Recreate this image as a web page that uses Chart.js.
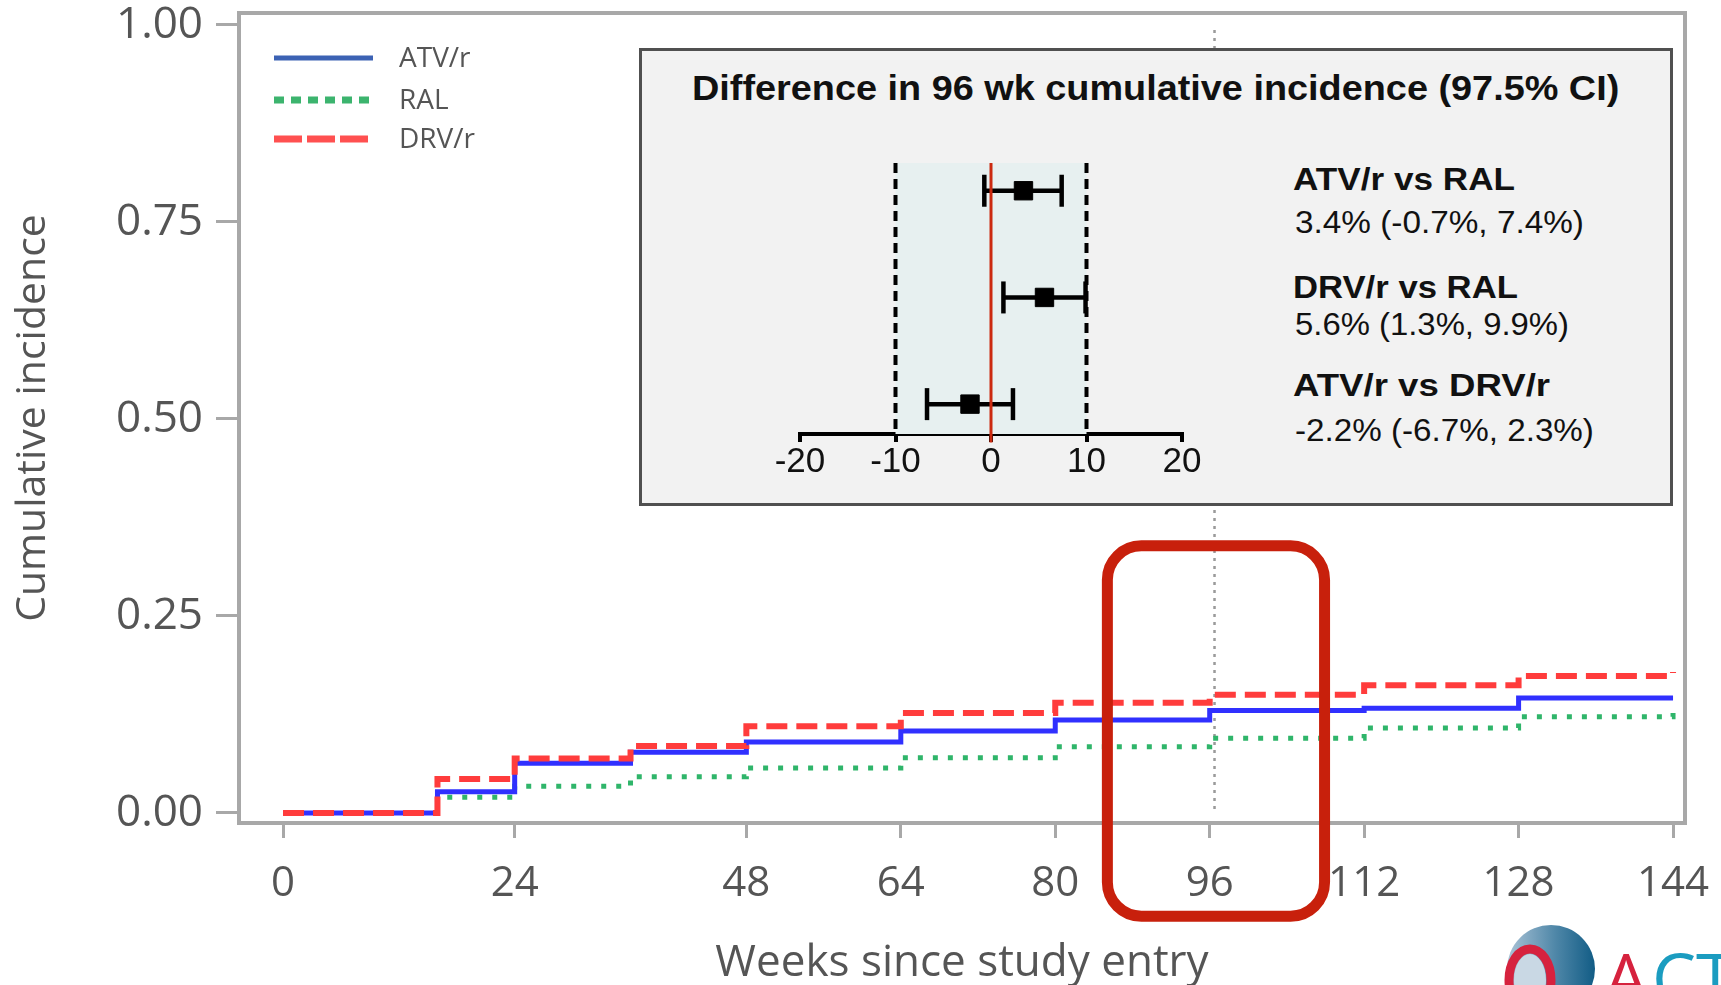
<!DOCTYPE html>
<html>
<head>
<meta charset="utf-8">
<title>Cumulative incidence by arm</title>
<script src="https://cdn.jsdelivr.net/npm/chart.js@4.4.1/dist/chart.umd.min.js"></script>
<style>
  html, body { margin: 0; padding: 0; background: #fff; }
  body { width: 1721px; height: 985px; position: relative; overflow: hidden; }
  #main { position: absolute; left: 0; top: 0; }
  #inset { position: absolute; left: 639px; top: 48px; width: 1034px; height: 458px;
           box-sizing: border-box; background: #f2f2f2; border: 3px solid #505050; }
  #forest { position: absolute; left: 760px; top: 140px; }
  .txt { position: absolute; white-space: nowrap; color: #111; transform-origin: left center;
         font-family: "Liberation Sans Narrow", "Liberation Sans", sans-serif; }
  .ttl { font-weight: bold; font-size: 35px; line-height: 40px; }
  .nm  { font-weight: bold; font-size: 31px; line-height: 36px; }
  .vl  { font-size: 31px; line-height: 36px; }
</style>
</head>
<body>
<canvas id="main" width="1721" height="985"></canvas>
<div id="inset"></div>
<canvas id="forest" width="460" height="343"></canvas>
<div id="labels"></div>

<script>
/* ---- data ---- */
var WEEKS  = [0, 16, 24, 36, 48, 64, 80, 96, 112, 128, 144];
var ATV_R  = [0, 0.027, 0.063, 0.077, 0.090, 0.104, 0.118, 0.130, 0.133, 0.146, 0.146];
var RAL    = [0, 0.020, 0.034, 0.046, 0.057, 0.070, 0.084, 0.095, 0.108, 0.122, 0.133];
var DRV_R  = [0, 0.043, 0.069, 0.085, 0.110, 0.127, 0.140, 0.150, 0.162, 0.174, 0.179];
var SERIES_NAMES = ['ATV/r', 'RAL', 'DRV/r'];
var X_TICKS = [0, 24, 48, 64, 80, 96, 112, 128, 144];
var Y_TICKS = [0, 0.25, 0.5, 0.75, 1];
var REF_WEEK = 96.5;

/* inset: difference in 96 wk cumulative incidence, % (97.5% CI) */
var COMPARISONS = ['ATV/r vs RAL', 'DRV/r vs RAL', 'ATV/r vs DRV/r'];
var DIFF  = [3.4, 5.6, -2.2];
var CI_LO = [-0.7, 1.3, -6.7];
var CI_HI = [7.4, 9.9, 2.3];
var MARGIN = [-10, 10];
var DIFF_TICKS = [-20, -10, 0, 10, 20];

var INSET_TITLE = 'Difference in 96 wk cumulative incidence (97.5% CI)';

/* highlight box round week 96, in data units (x weeks, y incidence) */
var HIGHLIGHT = { x0: 85.4, x1: 107.9, y0: -0.131, y1: 0.339 };

var AXIS_GRAY = '#a8a8a8';
var TEXT_GRAY = '#555';
var BLUE = '#3030ff', GREEN = '#2fb56a', RED = '#ff3c3c';

function pts(ys) {
  return WEEKS.map(function (w, i) { return { x: w, y: ys[i] }; });
}
function pct(v) { return v.toFixed(1) + '%'; }

/* frame round the plot, the legend, highlight box and logo */
var decorPlugin = {
  id: 'decor',
  beforeDatasetsDraw: function (chart) {
    var a = chart.chartArea, ctx = chart.ctx;
    ctx.save();
    ctx.strokeStyle = AXIS_GRAY;
    ctx.lineWidth = 4;
    ctx.strokeRect(a.left, a.top, a.right - a.left, a.bottom - a.top);
    ctx.restore();
  },
  afterDatasetsDraw: function (chart) {
    var a = chart.chartArea, ctx = chart.ctx;
    var styles = [
      { c: '#3c62b4', d: [], w: 5 },
      { c: '#3cb46e', d: [10, 7], w: 7 },
      { c: '#ff5050', d: [28, 5], w: 7 }
    ];
    var rowY = [a.top + 45, a.top + 87, a.top + 126];
    ctx.save();
    ctx.font = '28px "Open Sans", sans-serif';
    ctx.textBaseline = 'middle';
    SERIES_NAMES.forEach(function (name, i) {
      ctx.strokeStyle = styles[i].c;
      ctx.lineWidth = styles[i].w;
      ctx.setLineDash(styles[i].d);
      ctx.beginPath();
      ctx.moveTo(a.left + 35, rowY[i]);
      ctx.lineTo(a.left + 134, rowY[i]);
      ctx.stroke();
      ctx.setLineDash([]);
      ctx.fillStyle = TEXT_GRAY;
      ctx.fillText(name, a.left + 160, rowY[i] + 1);
    });
    ctx.restore();
  },
  afterDraw: function (chart) {
    var ctx = chart.ctx, xs = chart.scales.x, ys = chart.scales.y;
    var x0 = xs.getPixelForValue(HIGHLIGHT.x0), x1 = xs.getPixelForValue(HIGHLIGHT.x1);
    var y0 = ys.getPixelForValue(HIGHLIGHT.y1), y1 = ys.getPixelForValue(HIGHLIGHT.y0);
    ctx.save();
    ctx.strokeStyle = '#c8200c';
    ctx.lineWidth = 11;
    ctx.beginPath();
    ctx.roundRect(x0, y0, x1 - x0, y1 - y0, 34);
    ctx.stroke();

    /* ACTG logo, cut by the bottom edge */
    var g = ctx.createLinearGradient(1508, 0, 1594, 0);
    g.addColorStop(0, '#a9c2d6');
    g.addColorStop(0.55, '#4f87a8');
    g.addColorStop(1, '#135d86');
    ctx.fillStyle = g;
    ctx.beginPath();
    ctx.arc(1551, 969, 44, 0, Math.PI * 2);
    ctx.fill();
    ctx.fillStyle = '#c9d8e4';
    ctx.beginPath();
    ctx.ellipse(1530, 980, 16, 26, 0, 0, Math.PI * 2);
    ctx.fill();
    ctx.strokeStyle = '#d6223e';
    ctx.lineWidth = 9;
    ctx.beginPath();
    ctx.ellipse(1530, 980, 21, 31, 0, 0, Math.PI * 2);
    ctx.stroke();
    ctx.font = '70px "Open Sans", sans-serif';
    ctx.textBaseline = 'alphabetic';
    ctx.fillStyle = '#d6223e';
    ctx.fillText('A', 1604, 1004);
    ctx.fillStyle = '#1b9cc0';
    ctx.fillText('CTG', 1652, 1004);
    ctx.restore();
  }
};

/* light band between the margins of the inset */
var bandPlugin = {
  id: 'band',
  beforeDatasetsDraw: function (chart) {
    var a = chart.chartArea, xs = chart.scales.x, ctx = chart.ctx;
    var l = xs.getPixelForValue(MARGIN[0]), r = xs.getPixelForValue(MARGIN[1]);
    ctx.save();
    ctx.fillStyle = '#e7f0f0';
    ctx.fillRect(l, a.top, r - l, a.bottom - a.top);
    ctx.restore();
  }
};

Chart.defaults.font.family = '"Open Sans", sans-serif';
Chart.defaults.color = TEXT_GRAY;

new Chart(document.getElementById('main'), {
  type: 'scatter',
  data: {
    datasets: [
      { label: 'DRV/r', data: pts(DRV_R), showLine: true, stepped: true, borderColor: RED,
        borderWidth: 6, borderDash: [21, 9], pointRadius: 0, order: 1 },
      { label: 'ATV/r', data: pts(ATV_R), showLine: true, stepped: true, borderColor: BLUE,
        borderWidth: 5, pointRadius: 0, order: 2 },
      { label: 'RAL', data: pts(RAL), showLine: true, stepped: true, borderColor: GREEN,
        borderWidth: 5, borderDash: [5, 10], pointRadius: 0, order: 3 },
      { label: 'week 96', data: [{ x: REF_WEEK, y: 0.005 }, { x: REF_WEEK, y: 1 }], showLine: true,
        borderColor: '#9a9a9a', borderWidth: 2.5, borderDash: [3, 5], pointRadius: 0, order: 4 }
    ]
  },
  options: {
    responsive: false,
    devicePixelRatio: 1,
    animation: false,
    layout: { padding: { top: 13, right: 36, left: 0, bottom: 0 } },
    plugins: { legend: { display: false }, tooltip: { enabled: false } },
    scales: {
      x: {
        type: 'linear', min: -4.56, max: 145.24,
        border: { display: false },
        grid: { drawOnChartArea: false, drawTicks: true, tickLength: 15, color: AXIS_GRAY, lineWidth: 3 },
        ticks: { font: { size: 42, lineHeight: 1 }, color: TEXT_GRAY, padding: 25, maxRotation: 0 },
        afterBuildTicks: function (s) { s.ticks = X_TICKS.map(function (v) { return { value: v }; }); },
        afterFit: function (s) { s.height = 162; s.paddingLeft = 0; s.paddingRight = 0; },
        title: { display: true, text: 'Weeks since study entry', color: TEXT_GRAY,
                 font: { size: 44, lineHeight: 1 }, padding: { top: 0, bottom: 0 } }
      },
      y: {
        type: 'linear', min: -0.0127, max: 1.0152,
        border: { display: false },
        grid: { drawOnChartArea: false, drawTicks: true, tickLength: 23, color: AXIS_GRAY, lineWidth: 3 },
        ticks: { font: { size: 44, lineHeight: 1 }, color: TEXT_GRAY, padding: 13,
                 callback: function (v) { return Number(v).toFixed(2); } },
        afterBuildTicks: function (s) { s.ticks = Y_TICKS.map(function (v) { return { value: v }; }); },
        afterFit: function (s) { s.width = 239; s.paddingTop = 0; s.paddingBottom = 0; },
        title: { display: true, text: 'Cumulative incidence', color: TEXT_GRAY,
                 font: { size: 41, lineHeight: 1 }, padding: { top: 13, bottom: 0 } }
      }
    }
  },
  plugins: [decorPlugin]
});

/* ---- inset forest plot ---- */
var forestSets = [
  { data: DIFF.map(function (d, i) { return { x: d, y: i }; }), pointStyle: 'rect',
    pointRadius: 13, backgroundColor: '#000', borderColor: '#000', order: 0 },
  { data: [{ x: 0, y: -0.26 }, { x: 0, y: 2.36 }], showLine: true, borderColor: '#cc2a10',
    borderWidth: 3, pointRadius: 0, clip: false, order: 1 }
];
MARGIN.forEach(function (m) {
  forestSets.push({ data: [{ x: m, y: -0.26 }, { x: m, y: 2.28 }], showLine: true, borderColor: '#000',
    borderWidth: 4, borderDash: [10, 6], pointRadius: 0, order: 3 });
});
COMPARISONS.forEach(function (c, i) {
  forestSets.push({ data: [{ x: CI_LO[i], y: i }, { x: CI_HI[i], y: i }], showLine: true,
    borderColor: '#000', borderWidth: 4.5, pointStyle: 'line', rotation: 90, pointRadius: 16,
    pointBorderWidth: 4.5, pointBorderColor: '#000', order: 2 });
});

new Chart(document.getElementById('forest'), {
  type: 'scatter',
  data: { datasets: forestSets },
  options: {
    responsive: false,
    devicePixelRatio: 1,
    animation: false,
    layout: { padding: { top: 23, right: 38, left: 40, bottom: 0 } },
    plugins: { legend: { display: false }, tooltip: { enabled: false } },
    scales: {
      x: {
        type: 'linear', min: -20, max: 20,
        border: { display: true, color: '#000', width: 4 },
        grid: { drawOnChartArea: false, drawTicks: true, tickLength: 8, color: '#000', lineWidth: 4 },
        ticks: { font: { family: '"Liberation Sans", sans-serif', size: 35, lineHeight: 1 },
                 color: '#111', padding: 3, maxRotation: 0 },
        afterBuildTicks: function (s) { s.ticks = DIFF_TICKS.map(function (v) { return { value: v }; }); },
        afterFit: function (s) { s.paddingLeft = 0; s.paddingRight = 0; }
      },
      y: { type: 'linear', min: -0.26, max: 2.28, reverse: true, display: false }
    }
  },
  plugins: [bandPlugin]
});

/* ---- inset texts ---- */
var labelsEl = document.getElementById('labels');
function addText(cls, text, left, top, width) {
  var el = document.createElement('div');
  el.className = 'txt ' + cls;
  el.textContent = text;
  el.style.left = left + 'px';
  el.style.top = top + 'px';
  el.setAttribute('data-w', width);
  labelsEl.appendChild(el);
  return el;
}
var NAME_TOP = [162, 270, 368], NAME_W = [222, 225, 257];
var VAL_TOP = [205, 307, 413], VAL_W = [289, 274, 299];
addText('ttl', INSET_TITLE, 692, 68, 927);
COMPARISONS.forEach(function (c, i) {
  addText('nm', c, 1293, NAME_TOP[i], NAME_W[i]);
  addText('vl', pct(DIFF[i]) + ' (' + pct(CI_LO[i]) + ', ' + pct(CI_HI[i]) + ')', 1295, VAL_TOP[i], VAL_W[i]);
});

function fitText() {
  var els = labelsEl.querySelectorAll('.txt');
  for (var i = 0; i < els.length; i++) {
    var el = els[i];
    el.style.transform = '';
    var want = parseFloat(el.getAttribute('data-w'));
    var got = el.getBoundingClientRect().width;
    if (want && got) el.style.transform = 'scaleX(' + (want / got).toFixed(3) + ')';
  }
}
fitText();
if (document.fonts && document.fonts.ready) document.fonts.ready.then(fitText);
</script>
</body>
</html>
